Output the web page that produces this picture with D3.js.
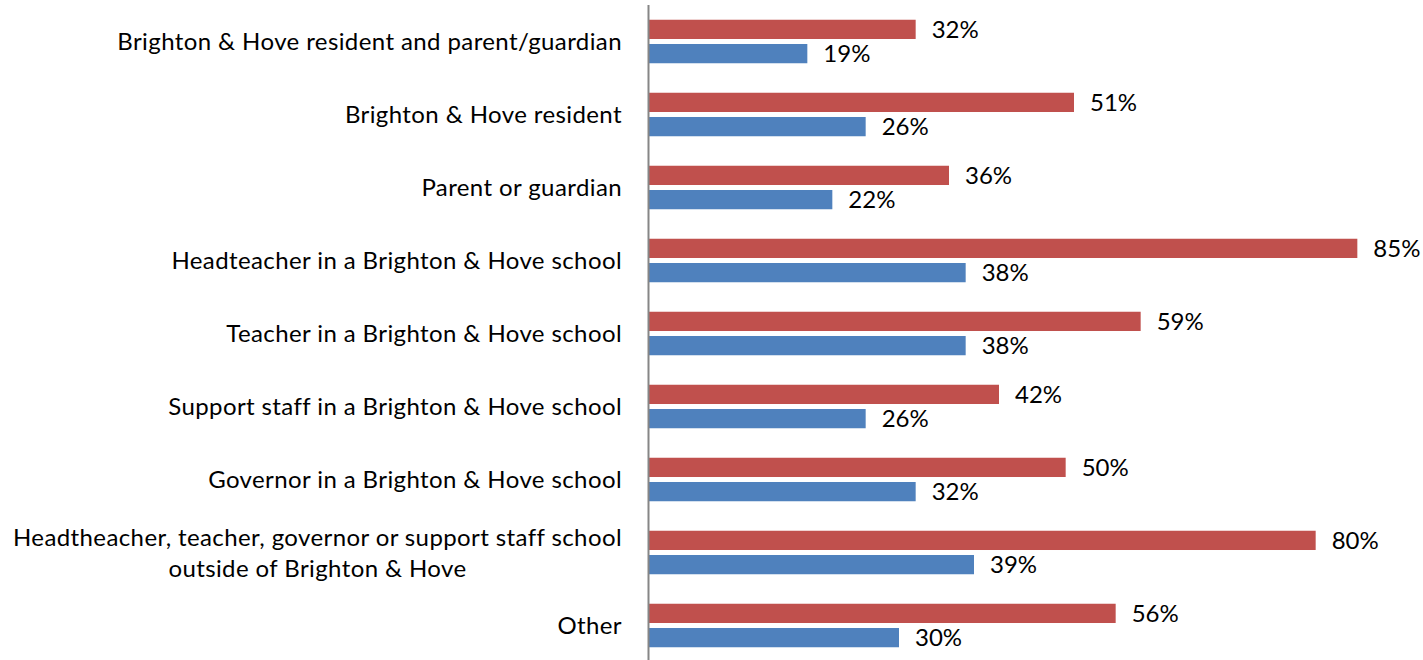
<!DOCTYPE html>
<html>
<head>
<meta charset="utf-8">
<script src="https://cdn.jsdelivr.net/npm/d3@7"></script>
<style>
  html, body { margin: 0; padding: 0; background: #ffffff; }
  svg { display: block; }
  text { font-family: Lato, "Noto Sans", sans-serif; fill: #000; }
</style>
</head>
<body>
<svg id="chart" width="1423" height="660"></svg>
<script>
const categories = [
  ["Brighton & Hove resident and parent/guardian"],
  ["Brighton & Hove resident"],
  ["Parent or guardian"],
  ["Headteacher in a Brighton & Hove school"],
  ["Teacher in a Brighton & Hove school"],
  ["Support staff in a Brighton & Hove school"],
  ["Governor in a Brighton & Hove school"],
  ["Headtheacher, teacher, governor or support staff school", "outside of Brighton & Hove"],
  ["Other"]
];
const seriesNames = ["Series 1", "Series 2"];
const series1 = [32, 51, 36, 85, 59, 42, 50, 80, 56];
const series2 = [19, 26, 22, 38, 38, 26, 32, 39, 30];
const seriesColors = ["#C0504D", "#4F81BD"];

const svg = d3.select("#chart");
const x0 = 649, xMaxPx = 1399;
const x = d3.scaleLinear().domain([0, 90]).range([x0, xMaxPx]);
const idx = categories.map((d, i) => i);
const y = d3.scaleBand().domain(idx).range([5, 662]).paddingInner(0.404).paddingOuter(0.202);
const yi = d3.scaleBand().domain([0, 1]).range([0, y.bandwidth()]).paddingInner(0.206);

const data = [series1, series2];
const fontSize = 24;
const catSpacing = 0.4;

// bars
data.forEach((vals, s) => {
  const g = svg.append("g");
  g.selectAll("rect").data(vals).join("rect")
    .attr("x", x(0))
    .attr("y", (d, i) => y(i) + yi(s))
    .attr("width", d => x(d) - x(0))
    .attr("height", yi.bandwidth())
    .attr("fill", seriesColors[s]);
  g.selectAll("text").data(vals).join("text")
    .attr("x", d => x(d) + 16)
    .attr("y", (d, i) => y(i) + yi(s) + yi.bandwidth() / 2)
    .attr("dy", "0.36em")
    .attr("font-size", fontSize)
    .text(d => d + "%");
});

// axis line
svg.append("line")
  .attr("x1", x(0) - 0.5).attr("x2", x(0) - 0.5)
  .attr("y1", 5).attr("y2", 660)
  .attr("stroke", "#868686").attr("stroke-width", 2);

// category labels
const lineH = 31;
categories.forEach((lines, i) => {
  const cy = y(i) + y.bandwidth() / 2;
  const t = svg.append("text")
    .attr("font-size", fontSize)
    .attr("letter-spacing", catSpacing);
  const n = lines.length;
  if (n === 1) {
    t.attr("text-anchor", "end")
      .attr("x", 622).attr("y", cy).attr("dy", "0.36em").text(lines[0]);
  } else {
    const tmp = svg.append("text").attr("font-size", fontSize)
      .attr("letter-spacing", catSpacing).text(lines[0]);
    const w = tmp.node().getComputedTextLength();
    tmp.remove();
    const cx = 622 - w / 2;
    t.attr("text-anchor", "middle");
    lines.forEach((l, k) => {
      t.append("tspan")
        .attr("x", cx)
        .attr("y", cy + (k - (n - 1) / 2) * lineH)
        .attr("dy", "0.36em")
        .text(l);
    });
  }
});
</script>
</body>
</html>
